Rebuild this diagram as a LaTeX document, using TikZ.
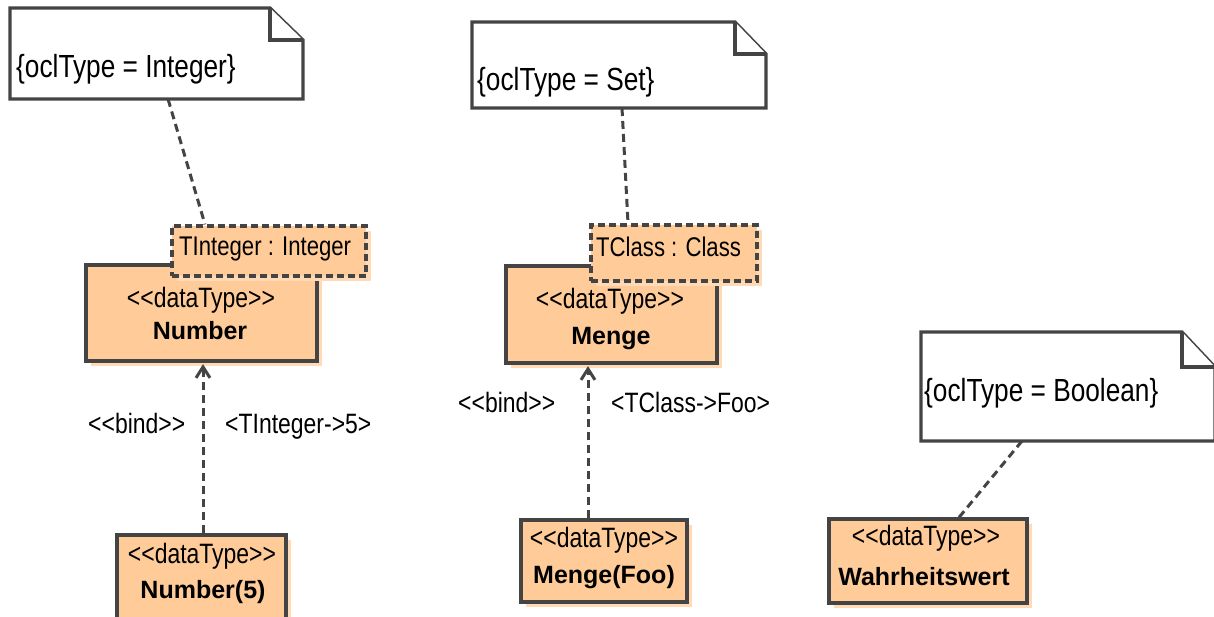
\documentclass[tikz,border=0pt]{standalone}
\usepackage{fontspec}
\setmainfont{Liberation Sans}
\newfontfamily\cond{Liberation Sans}[FakeStretch=0.82]
\usetikzlibrary{arrows.meta,shadows,calc}
\definecolor{peach}{HTML}{FFCC99}
\definecolor{peachshadow}{HTML}{FFDAB5}
\definecolor{edge}{HTML}{444444}
\tikzset{
  umlbox/.style={draw=edge, line width=3.2pt, fill=peach, inner sep=0pt,
    drop shadow={shadow xshift=4.5pt, shadow yshift=-4.5pt, fill=peachshadow, opacity=1}},
  parambox/.style={umlbox, dashed, dash pattern=on 7pt off 4pt},
  noteframe/.style={draw=edge, line width=3.2pt, fill=white, line join=miter},
  anchorbox/.style={inner sep=0pt, outer sep=0pt},
  stereo/.style={font=\cond\fontsize{28}{32}\selectfont, inner sep=0pt, anchor=base},
  bname/.style={font=\bfseries\fontsize{25}{30}\selectfont, inner sep=0pt, anchor=base},
  notetext/.style={font=\cond\fontsize{32}{36}\selectfont, inner sep=0pt, anchor=base west},
  paramtext/.style={font=\cond\fontsize{27}{30}\selectfont, inner sep=0pt, anchor=base west},
  lbl/.style={font=\cond\fontsize{28}{30}\selectfont, inner sep=0pt, anchor=base west},
  notelink/.style={draw=edge, line width=3pt, dash pattern=on 8pt off 5pt},
  bindlink/.style={draw=edge, line width=3pt, dash pattern=on 8pt off 5pt,
    -{Straight Barb[length=11pt,width=14pt,line width=3pt]}}
}
\begin{document}
\begin{tikzpicture}[x=1pt,y=-1pt]
\useasboundingbox (0,0) rectangle (1214,616);
\clip (0,0) rectangle (1214,616);

% ---------- Notes ----------
\node[anchorbox, minimum width=293pt, minimum height=91pt] (note1) at (156.5,53.5) {};
\draw[noteframe] (note1.south west) -- (note1.north west) -- ([xshift=-33pt]note1.north east)
  -- ([yshift=-32pt]note1.north east) -- (note1.south east) -- cycle;
\draw[noteframe] ([xshift=-33pt]note1.north east) -- ([xshift=-33pt,yshift=-32pt]note1.north east)
  -- ([yshift=-32pt]note1.north east);
\node[notetext] (t1) at (16,77) {\{oclType = Integer\}};

\node[anchorbox, minimum width=294pt, minimum height=86pt] (note2) at (619,65) {};
\draw[noteframe] (note2.south west) -- (note2.north west) -- ([xshift=-31pt]note2.north east)
  -- ([yshift=-32pt]note2.north east) -- (note2.south east) -- cycle;
\draw[noteframe] ([xshift=-31pt]note2.north east) -- ([xshift=-31pt,yshift=-32pt]note2.north east)
  -- ([yshift=-32pt]note2.north east);
\node[notetext] (t2) at (477,90) {\{oclType = Set\}};

\node[anchorbox, minimum width=294pt, minimum height=109pt] (note3) at (1068,386.5) {};
\draw[noteframe] (note3.south west) -- (note3.north west) -- ([xshift=-33pt]note3.north east)
  -- ([yshift=-35pt]note3.north east) -- (note3.south east) -- cycle;
\draw[noteframe] ([xshift=-33pt]note3.north east) -- ([xshift=-33pt,yshift=-35pt]note3.north east)
  -- ([yshift=-35pt]note3.north east);
\node[notetext] (t3) at (924,401) {\{oclType = Boolean\}};

% ---------- Number ----------
\node[umlbox, minimum width=231pt, minimum height=96pt] (number) at (201.5,313) {};
\node[stereo] (s1) at (201,307) {<{}<dataType>{}>};
\node[bname] (b1) at (200,339) {Number};
\node[parambox, minimum width=194pt, minimum height=50pt] (p1) at (269,251) {};
\node[paramtext] (pt1) at (179,255) {TInteger : Integer};

% ---------- Number(5) ----------
\node[umlbox, minimum width=169pt, minimum height=105pt] (n5) at (201.5,587.5) {};
\node[stereo] (s2) at (202,563) {<{}<dataType>{}>};
\node[bname] (b2) at (203,598) {Number(5)};

% ---------- Menge ----------
\node[umlbox, minimum width=211pt, minimum height=97pt] (menge) at (611.5,314.5) {};
\node[stereo] (s3) at (610,308) {<{}<dataType>{}>};
\node[bname] (b3) at (611,344) {Menge};
\node[parambox, minimum width=166pt, minimum height=56pt] (p2) at (674,253) {};
\node[paramtext] (pt2) at (596,256) {TClass : Class};

% ---------- Menge(Foo) ----------
\node[umlbox, minimum width=166pt, minimum height=82pt] (mfoo) at (604,561) {};
\node[stereo] (s4) at (604,547) {<{}<dataType>{}>};
\node[bname] (b4) at (604,583) {Menge(Foo)};

% ---------- Wahrheitswert ----------
\node[umlbox, minimum width=198pt, minimum height=84pt] (wahr) at (928,561) {};
\node[stereo] (s5) at (926,545) {<{}<dataType>{}>};
\node[bname] (b5) at (924,585) {Wahrheitswert};

% ---------- Connectors ----------
\draw[notelink] ([xshift=11.5pt]note1.south) -- ([xshift=-64pt]p1.north);
\draw[notelink] ([xshift=3pt]note2.south) -- ([xshift=-46pt]p2.north);
\draw[notelink] ([xshift=-46pt]note3.south) -- ([xshift=31pt]wahr.north);

\coordinate (ax1) at (203,450);
\coordinate (ax2) at (588,450);
\draw[bindlink] (n5.north -| ax1) -- ([yshift=-1.5pt]number.south -| ax1);
\draw[bindlink] (mfoo.north -| ax2) -- ([yshift=-1.5pt]menge.south -| ax2);

\node[lbl] (l1) at (88,433) {<{}<bind>{}>};
\node[lbl] (l2) at (225,433) {<TInteger->5>};
\node[lbl] (l3) at (458,412) {<{}<bind>{}>};
\node[lbl] (l4) at (611,412) {<TClass->Foo>};
\end{tikzpicture}
\end{document}
